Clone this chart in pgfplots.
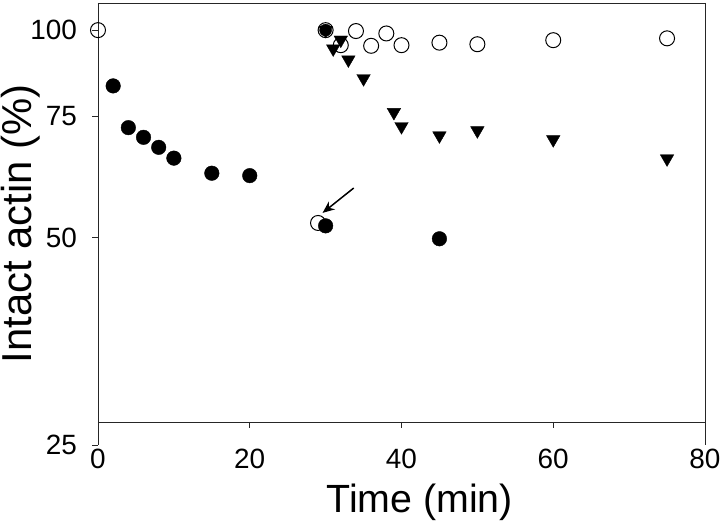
\documentclass[border=0pt]{standalone}
\usepackage{pgfplots}
\pgfplotsset{compat=1.18}
\usepackage{fontspec}
\setmainfont{Liberation Sans}
\usetikzlibrary{arrows.meta}
\begin{document}
\begin{tikzpicture}
\begin{axis}[
 scale only axis, width=607bp, height=442bp,
 xmin=0, xmax=80, ymin=25, ymax=109.5, ymode=log,
 axis line style={draw=none},
 xtick={0,20,40,60,80}, xticklabels={0,20,40,60,80},
 ytick={25,50,75,100}, yticklabels={25,50,75,100},
 minor xtick={}, minor ytick={},
 major tick length=0pt,
 tick style={draw=none},
 xticklabel style={anchor=north, inner sep=0pt, yshift=-4bp},
 yticklabel style={anchor=east, inner sep=0pt, xshift=-21bp},
 ticklabel style={font=\fontsize{28}{32}\selectfont},
 xlabel={Time (min)}, ylabel={Intact actin (\%)},
 xlabel style={font=\fontsize{39.5}{46}\selectfont, at={(axis description cs:0.53,-0.1538)}, anchor=base},
 ylabel style={font=\fontsize{42}{50}\selectfont, at={(axis description cs:-0.1092,0.5)}, anchor=base},
 clip=false,
 /pgf/number format/assume math mode=true,
]
% frame
\draw[line width=0.9bp, black!85] (axis cs:0,109.5) -- (axis cs:80,109.5);
\draw[line width=0.9bp, black!85] (axis cs:0,109.5) -- (axis cs:0,25);
\draw[line width=0.9bp, black!85] (axis cs:80,109.5) -- (axis cs:80,25);
\draw[line width=0.9bp, black!85] (axis cs:0,27) -- (axis cs:80,27);
\draw[line width=0.9bp, black!85] (axis cs:20,27) -- ++(0bp,-6bp);
\draw[line width=0.9bp, black!85] (axis cs:40,27) -- ++(0bp,-6bp);
\draw[line width=0.9bp, black!85] (axis cs:60,27) -- ++(0bp,-6bp);
\draw[line width=0.9bp, black!85] (axis cs:0,25) -- ++(-6bp,0bp);
\draw[line width=0.9bp, black!85] (axis cs:0,50) -- ++(-6bp,0bp);
\draw[line width=0.9bp, black!85] (axis cs:0,75) -- ++(-6bp,0bp);
\draw[line width=0.9bp, black!85] (axis cs:0,100) -- ++(-6bp,0bp);
% filled circles
\addplot[only marks, mark=*, mark size=7.3bp, mark options={fill=black, draw=black}] coordinates {
 (2,83.0) (4,72.2) (6,69.9) (8,67.6) (10,65.2) (15,62.0) (20,61.5) (30,52.0) (45,49.8)
};
% open circles
\addplot[only marks, mark=o, mark size=7.5bp, mark options={fill=white, draw=black, line width=1bp}] coordinates {
 (0,100) (29,52.5) (30,100) (32,95.1) (34,99.7) (36,94.9) (38,98.9) (40,95.1) (45,95.9) (50,95.4) (60,96.7) (75,97.3)
};
% filled circle at 30,100
\addplot[only marks, mark=*, mark size=6bp, mark options={fill=black, draw=black}] coordinates {(30,100)};
% triangles
\addplot[only marks, mark=triangle*, mark size=7.8bp, mark options={rotate=180, fill=black, draw=black}] coordinates {
 (30,100) (31,94.0) (32,96.8) (33,90.6) (35,85.1) (39,76.0) (40,72.5) (45,70.3) (50,71.5) (60,69.4) (75,65.1)
};
% arrow
\draw[line width=1.5bp, -{Stealth[length=12bp, width=10bp]}] (axis cs:33.7,59.0) -- (axis cs:29.6,54.3);
\end{axis}
\pgfresetboundingbox
\path[use as bounding box] (-98bp,-78bp) rectangle (622bp,445bp);
\end{tikzpicture}
\end{document}
